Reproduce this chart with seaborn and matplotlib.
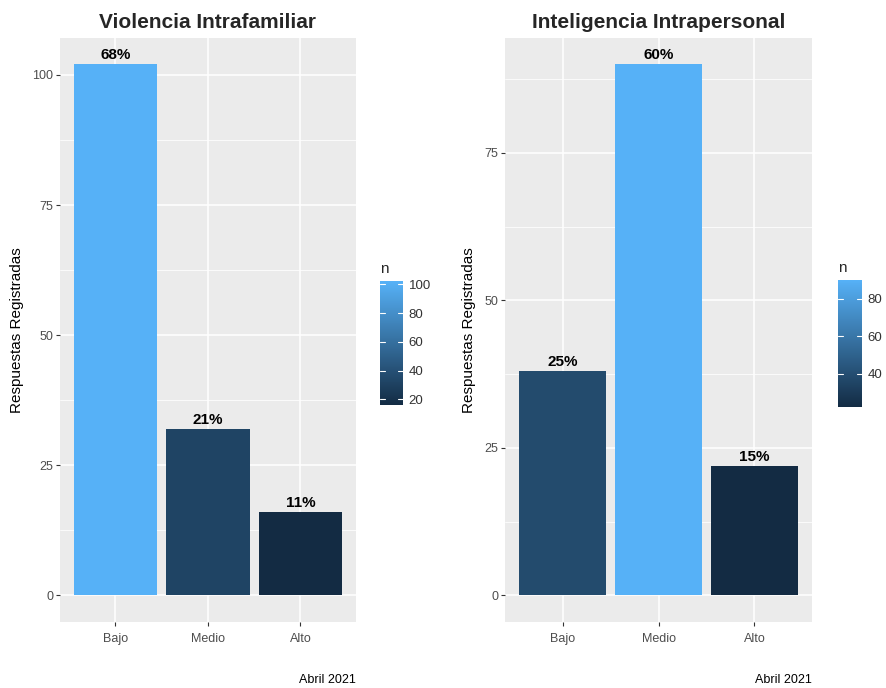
import numpy as np
import matplotlib
matplotlib.use("Agg")
import matplotlib.pyplot as plt
import seaborn as sns
from matplotlib.colors import LinearSegmentedColormap, Normalize
from matplotlib.cm import ScalarMappable

# data
categories = ["Bajo", "Medio", "Alto"]
violencia_n = [102, 32, 16]
violencia_pct = ["68%", "21%", "11%"]
intra_n = [38, 90, 22]
intra_pct = ["25%", "60%", "15%"]
titles = ["Violencia Intrafamiliar", "Inteligencia Intrapersonal"]
yticks_left = [0, 25, 50, 75, 100]
yticks_right = [0, 25, 50, 75]
cbar_ticks_left = [20, 40, 60, 80, 100]
cbar_ticks_right = [40, 60, 80]

sns.set_theme(style="darkgrid")
plt.rcParams["font.family"] = ["Liberation Sans", "DejaVu Sans"]

cmap = LinearSegmentedColormap.from_list("gg", ["#132B43", "#56B1F7"])

fig = plt.figure(figsize=(8.86, 6.88), dpi=100)
ax_pos = [[0.0677, 0.0959, 0.334, 0.849], [0.570, 0.0959, 0.3465, 0.849]]
cb_pos = [[0.4289, 0.411, 0.026, 0.180], [0.9458, 0.408, 0.027, 0.185]]
panels = [(violencia_n, violencia_pct, yticks_left, cbar_ticks_left),
          (intra_n, intra_pct, yticks_right, cbar_ticks_right)]


def draw_panel(i):
    vals, pct, yt, ct = panels[i]
    ax = fig.add_axes(ax_pos[i])
    ax.set_facecolor("#EBEBEB")
    norm = Normalize(vmin=min(vals), vmax=max(vals))
    sns.barplot(x=categories, y=vals, hue=vals, palette=cmap, hue_norm=norm,
                width=0.9, legend=False, saturation=1, linewidth=0,
                ax=ax, zorder=3)
    top = max(vals)
    for k, (v, lab) in enumerate(zip(vals, pct)):
        ax.text(k, v + top * 0.004, lab, ha="center", va="bottom",
                fontsize=11, fontweight="bold", color="black")
    lo, hi = -0.05 * top, top * 1.05
    ax.set_yticks(yt)
    ax.set_yticks([v + 12.5 for v in yt if v + 12.5 < hi], minor=True)
    ax.set_ylim(lo, hi)
    ax.set_xlim(-0.6, 2.6)
    ax.grid(True, which="major", color="white", linewidth=1.1, zorder=0)
    ax.grid(True, which="minor", axis="y", color="white", linewidth=0.55, zorder=0)
    ax.set_axisbelow(True)
    for s in ax.spines.values():
        s.set_visible(False)
    ax.tick_params(axis="both", which="major", length=3, width=0.8, color="#333333",
                   labelsize=9, labelcolor="#4D4D4D", pad=2, bottom=True, left=True)
    ax.tick_params(axis="x", which="major", pad=5)
    ax.tick_params(axis="y", which="minor", length=0)
    ax.set_ylabel("Respuestas Registradas", fontsize=11, color="black", labelpad=6)
    ax.set_xlabel("")
    ax.set_title(titles[i], fontsize=15, fontweight="bold", pad=7)
    ax.text(1.0, -0.1, "Abril 2021", transform=ax.transAxes, ha="right", va="center",
            fontsize=9, color="black")

    cax = fig.add_axes(cb_pos[i])
    cb = fig.colorbar(ScalarMappable(norm=norm, cmap=cmap), cax=cax)
    cb.outline.set_visible(False)
    cb.set_ticks(ct)
    cax.tick_params(axis="y", length=0, labelsize=9.5, labelcolor="#333333", pad=4)
    for t in ct:
        cax.plot([0, 0.2], [t, t], color="white", lw=0.8, transform=cax.get_yaxis_transform())
        cax.plot([0.8, 1.0], [t, t], color="white", lw=0.8, transform=cax.get_yaxis_transform())
    cax.set_title("n", loc="left", fontsize=11, pad=6)


draw_panel(0)
draw_panel(1)

fig.savefig("out.png", dpi=100, facecolor="white")
